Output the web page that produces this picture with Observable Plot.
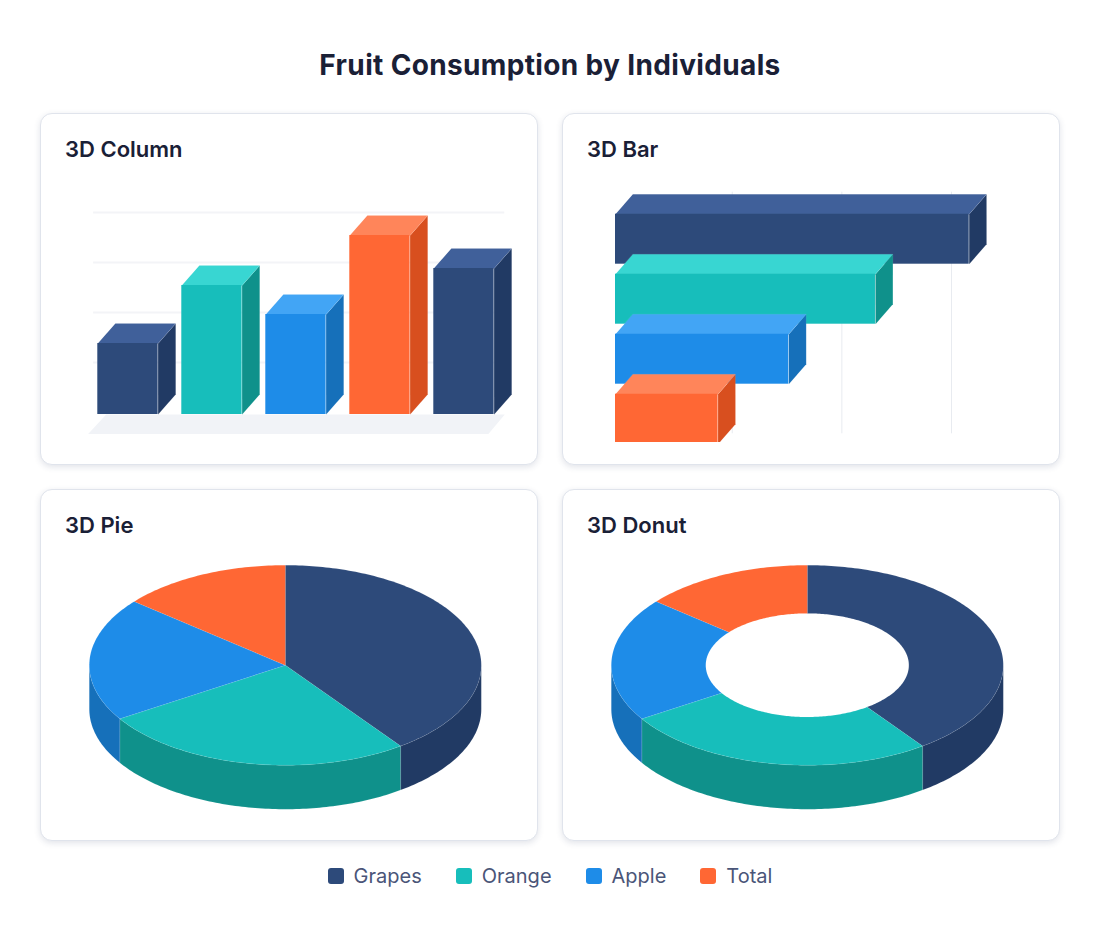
<!DOCTYPE html>
<html>
<head>
<meta charset="utf-8">
<script src="https://cdn.jsdelivr.net/npm/d3@7"></script>
<script src="https://cdn.jsdelivr.net/npm/@observablehq/plot@0.6"></script>
<style>
  html,body{margin:0;padding:0;background:#fff;font-family:Inter,"Noto Sans",sans-serif;}
  #page{position:relative;width:1100px;height:928px;overflow:hidden;}
  h1{position:absolute;left:0;width:1100px;top:47px;margin:0;text-align:center;font-size:28px;line-height:36px;font-weight:700;letter-spacing:.35px;color:#1a2036;}
  .card{position:absolute;box-sizing:border-box;width:498px;height:352px;background:#fff;border:1px solid #e0e4ec;border-radius:12px;box-shadow:0 2px 6px rgba(45,60,100,.14);}
  .card h2{position:absolute;left:24px;top:21px;margin:0;font-size:22px;line-height:28px;font-weight:600;color:#1a2036;}
  .card svg{position:absolute;left:0;top:58px;display:block;}
  #legend{position:absolute;left:0;width:1100px;top:864px;display:flex;justify-content:center;gap:34px;font-size:20px;line-height:24px;color:#4a5578;}
  #legend div{display:flex;align-items:center;gap:10px;}
  #legend i{display:block;width:16px;height:16px;border-radius:3px;}
</style>
</head>
<body>
<div id="page">
  <h1>Fruit Consumption by Individuals</h1>
  <div class="card" id="c1" style="left:40px;top:113px"><h2>3D Column</h2></div>
  <div class="card" id="c2" style="left:562px;top:113px"><h2>3D Bar</h2></div>
  <div class="card" id="c3" style="left:40px;top:489px"><h2>3D Pie</h2></div>
  <div class="card" id="c4" style="left:562px;top:489px"><h2>3D Donut</h2></div>
  <div id="legend"></div>
</div>
<script>
// ---- data ----
const fruits = ["Grapes", "Orange", "Apple", "Total"];
const columnSeries = ["Grapes", "Orange", "Apple", "Total", "Grapes"];
const columnValues = [7.1, 12.9, 10.0, 17.9, 14.6];
const columnGrid = [5.2, 10.2, 15.2, 20.2];
const barValues = [20.0, 14.7, 9.8, 5.8];
const barGrid = [6.6, 12.8, 19.0];
const pieShares = [40, 26, 20, 14];

// ---- styles ----
const front = {Grapes:"#2d4a7a", Orange:"#17bebb", Apple:"#1e8ce8", Total:"#ff6734"};
const top_  = {Grapes:"#40609a", Orange:"#38d6d2", Apple:"#42a5f5", Total:"#ff855a"};
const side  = {Grapes:"#213a64", Orange:"#0f918b", Apple:"#1670ba", Total:"#d84f1f"};
const seam = {stroke:"#fff", strokeOpacity:0.14, strokeWidth:0.5};
const W = 496, H = 270;

function poly(pts, fill, extra) {
  return Plot.line(pts, {x:"x", y:"y", curve:"linear-closed", fill, ...seam, ...(extra||{})});
}

// ---- 3D Column ----
(function(){
  const barW = 60.3/84, dx = 17.6/84, dy = 2;
  const marks = [];
  marks.push(Plot.ruleY(columnGrid, {x1:-0.05, x2:4.845, stroke:"#f3f4f7", strokeWidth:2}));
  marks.push(Plot.line([{x:-0.115,y:-1.95},{x:4.65,y:-1.95},{x:4.845,y:0},{x:0.1,y:0}],
    {x:"x", y:"y", curve:"linear-closed", fill:"#f1f3f7", stroke:"none"}));
  columnValues.forEach((v,i)=>{
    const s = columnSeries[i], x0=i, x1=i+barW;
    marks.push(poly([{x:x1,y:0},{x:x1+dx,y:dy},{x:x1+dx,y:v+dy},{x:x1,y:v}], side[s]));
    marks.push(poly([{x:x0,y:v},{x:x1,y:v},{x:x1+dx,y:v+dy},{x:x0+dx,y:v+dy}], top_[s]));
    marks.push(Plot.rect([{x0,x1,y0:0,y1:v}], {x1:"x0", x2:"x1", y1:"y0", y2:"y1", fill:front[s]}));
  });
  document.getElementById("c1").append(Plot.plot({
    width:W, height:H, margin:0,
    x:{type:"linear", domain:[0,5], range:[56.3,476.3], axis:null},
    y:{type:"linear", domain:[0,20], range:[242,42], axis:null},
    marks
  }));
})();

// ---- 3D Bar ----
(function(){
  const barH = 50/60, dx = 17.4/17.7, dy = 20/60;
  const marks = [];
  marks.push(Plot.ruleX(barGrid, {y1:-0.367, y2:3.66, stroke:"#e8ebf0", strokeWidth:1}));
  barValues.forEach((v,i)=>{
    const s = fruits[i], y0=i, y1=i+barH;
    marks.push(poly([{x:v,y:y1},{x:v+dx,y:y1-dy},{x:v+dx,y:y0-dy},{x:v,y:y0}], side[s]));
    marks.push(poly([{x:0,y:y0},{x:v,y:y0},{x:v+dx,y:y0-dy},{x:dx,y:y0-dy}], top_[s]));
    marks.push(Plot.rect([{x0:0,x1:v,y0,y1}], {x1:"x0", x2:"x1", y1:"y0", y2:"y1", fill:front[s]}));
  });
  document.getElementById("c2").append(Plot.plot({
    width:W, height:H, margin:0,
    x:{type:"linear", domain:[0,20], range:[52,405.7], axis:null},
    y:{type:"linear", domain:[0,4], range:[41.7,281.7], axis:null},
    marks
  }));
})();

// ---- 3D Pie / Donut ----
function disc(id, hole, cxPx) {
  const rx=196, ry=100, cyPx=116.7, depth=0.44;
  const total = d3.sum(pieShares);
  const pt = (deg, r) => ({x:r*Math.sin(deg*Math.PI/180), y:-r*Math.cos(deg*Math.PI/180)});
  const arc = (a0,a1,r) => { const out=[]; const n=Math.max(2,Math.ceil(Math.abs(a1-a0)));
    for(let k=0;k<=n;k++) out.push(pt(a0+(a1-a0)*k/n,r)); return out; };
  const marks=[];
  let start=0;
  const spans = pieShares.map(v=>{const a0=start; start+=v/total*360; return [a0,start];});
  spans.forEach(([a0,a1],i)=>{
    const lo=Math.max(a0,90), hi=Math.min(a1,270);
    if(lo<hi){
      const upper=arc(lo,hi,1);
      const lower=upper.map(p=>({x:p.x,y:p.y+depth})).reverse();
      marks.push(poly(upper.concat(lower), side[fruits[i]]));
    }
  });
  spans.forEach(([a0,a1],i)=>{
    const outer=arc(a0,a1,1);
    const inner= hole>0 ? arc(a1,a0,hole) : [{x:0,y:0}];
    marks.push(poly(outer.concat(inner), front[fruits[i]]));
  });
  document.getElementById(id).append(Plot.plot({
    width:W, height:H, margin:0,
    x:{type:"linear", domain:[-1,1], range:[cxPx-rx,cxPx+rx], axis:null},
    y:{type:"linear", domain:[-1,1], range:[cyPx-ry,cyPx+ry], axis:null},
    marks
  }));
}
disc("c3", 0, 243.8);
disc("c4", 0.518, 243.8);

// ---- Legend ----
const legend = document.getElementById("legend");
fruits.forEach(f=>{
  const d=document.createElement("div");
  const sw=document.createElement("i"); sw.style.background=front[f];
  const t=document.createElement("span"); t.textContent=f;
  d.append(sw,t); legend.append(d);
});
</script>
</body>
</html>
